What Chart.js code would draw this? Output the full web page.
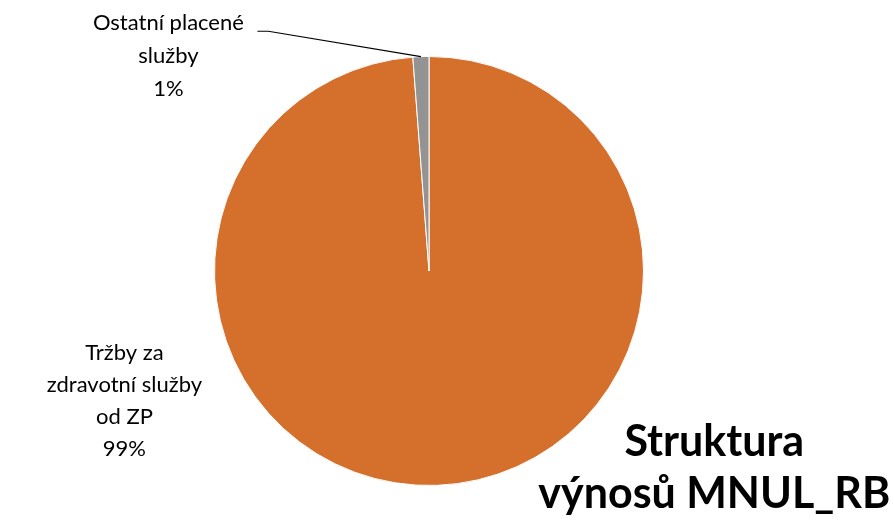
<!DOCTYPE html>
<html>
<head>
<meta charset="utf-8">
<script src="https://cdn.jsdelivr.net/npm/chart.js@4"></script>
<style>
  html, body { margin: 0; padding: 0; background: #fff; }
  #wrap { width: 894px; height: 523px; }
</style>
</head>
<body>
<div id="wrap"><canvas id="pie"></canvas></div>
<script>
// data
const categories = ["Tržby za zdravotní služby od ZP", "Ostatní placené služby"];
const labelLines = [["Tržby za", "zdravotní služby", "od ZP"], ["Ostatní placené", "služby"]];
const shares = [98.8, 1.2];
const sliceColors = ["#D46F2C", "#939393"];
const titleLines = ["Struktura", "výnosů MNUL_RB"];

const FONT = "Lato, 'Open Sans', sans-serif";

// draws the data labels, leader line and title
const labelPlugin = {
  id: "pieLabels",
  afterDraw(chart) {
    const ctx = chart.ctx;
    const meta = chart.getDatasetMeta(0);
    const total = shares.reduce((a, b) => a + b, 0);
    const a0 = meta.data[0];
    const cx = a0.x, cy = a0.y, r = a0.outerRadius;

    ctx.save();
    ctx.fillStyle = "#000";
    ctx.textAlign = "center";
    ctx.textBaseline = "middle";
    ctx.font = "22px " + FONT;

    // big slice label, left of the pie
    const big = labelLines[0].concat([Math.round(shares[0] / total * 100) + "%"]);
    big.forEach((t, i) => ctx.fillText(t, cx - r * 1.42, cy + r * 0.38 + i * 32));

    // small slice label, upper left with leader line
    const small = labelLines[1].concat([Math.round(shares[1] / total * 100) + "%"]);
    const sx = cx - r * 1.215, sy = cy - r * 1.155;
    small.forEach((t, i) => ctx.fillText(t, sx, sy + i * 33));

    const arc = meta.data[1];
    const mid = (arc.startAngle + arc.endAngle) / 2;
    const px = cx + Math.cos(mid) * r, py = cy + Math.sin(mid) * r;
    ctx.strokeStyle = "#000";
    ctx.lineWidth = 1.2;
    ctx.beginPath();
    ctx.moveTo(sx + 89, sy + 8);
    ctx.lineTo(sx + 100, sy + 8);
    ctx.lineTo(px, py);
    ctx.stroke();

    // title at the bottom right
    ctx.font = "bold 43px " + FONT;
    ctx.fillText(titleLines[0], cx + r * 1.33, cy + r * 0.8);
    ctx.fillText(titleLines[1], cx + r * 1.33, cy + r * 1.04);
    ctx.restore();
  }
};

const data = {
  labels: categories,
  datasets: [{
    data: shares,
    backgroundColor: sliceColors,
    borderColor: "#ffffff",
    borderWidth: 1
  }]
};

const options = {
  responsive: true,
  maintainAspectRatio: false,
  animation: false,
  layout: {
    padding: { top: 56, bottom: 37, left: 200, right: 236 }
  },
  plugins: {
    legend: { display: false },
    tooltip: { enabled: false },
    title: { display: false }
  }
};

const pie = new Chart(document.getElementById("pie"), {
  type: "pie",
  data: data,
  options: options,
  plugins: [labelPlugin]
});
</script>
</body>
</html>
